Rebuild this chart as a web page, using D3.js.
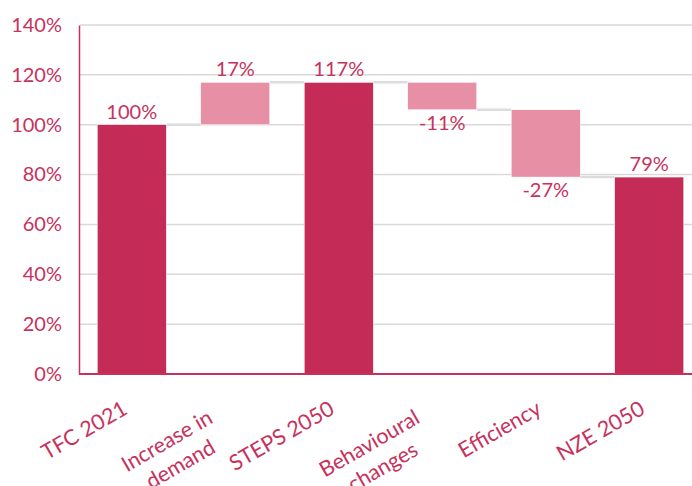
<!DOCTYPE html>
<html>
<head>
<meta charset="utf-8">
<script src="https://cdn.jsdelivr.net/npm/d3@7"></script>
<style>
  body { margin: 0; background: #fff; }
  text { font-family: Lato, "Open Sans", sans-serif; fill: #c7325d; }
</style>
</head>
<body>
<div class="chart"></div>
<script>
  // waterfall data
  var categories = [["TFC 2021"], ["Increase in", "demand"], ["STEPS 2050"], ["Behavioural", "changes"], ["Efficiency"], ["NZE 2050"]];
  var values = [100, 17, 117, -11, -27, 79];
  var isTotal = [true, false, true, false, false, true];
  var yTicks = [0, 20, 40, 60, 80, 100, 120, 140];

  var width = 692, height = 486;
  var dark = "#c42b57", light = "#e68fa5";

  var svg = d3.select(".chart").append("svg")
    .attr("width", width)
    .attr("height", height);

  var x = d3.scaleBand()
    .domain(d3.range(categories.length))
    .range([80, 701])
    .paddingInner(0.333)
    .paddingOuter(0.1667);

  var y = d3.scaleLinear()
    .domain([0, 140])
    .range([374, 25]);

  // build start/end of each bar
  var bars = [];
  var running = 0;
  values.forEach(function(v, i) {
    var b;
    if (isTotal[i]) {
      b = { i: i, y0: 0, y1: v, total: true };
      running = v;
    } else {
      b = { i: i, y0: running, y1: running + v, total: false };
      running = running + v;
    }
    b.v = v;
    bars.push(b);
  });

  // gridlines
  svg.append("g")
    .selectAll("line")
    .data(yTicks.filter(function(d) { return d > 0; }))
    .enter().append("line")
    .attr("x1", 80).attr("x2", width)
    .attr("y1", function(d) { return y(d); })
    .attr("y2", function(d) { return y(d); })
    .style("stroke", "#d9d9d9")
    .style("stroke-width", 1.5);

  // y axis
  var yAxis = d3.axisLeft(y).tickValues(yTicks).tickSize(0).tickPadding(17)
    .tickFormat(function(d) { return d + "%"; });
  var ga = svg.append("g").attr("transform", "translate(79,0)").call(yAxis);
  ga.select(".domain").style("stroke", "#c7325d").style("stroke-width", 1.5);
  ga.selectAll("text").style("font-size", "20px").attr("fill", "#c7325d");

  // connectors
  svg.append("g")
    .selectAll("line")
    .data(bars.slice(0, bars.length - 1))
    .enter().append("line")
    .attr("x1", function(d) { return x(d.i) + x.bandwidth(); })
    .attr("x2", function(d) { return x(d.i + 1); })
    .attr("y1", function(d) { return y(d.y1); })
    .attr("y2", function(d) { return y(d.y1); })
    .style("stroke", "#dcdcdc")
    .style("stroke-width", 2.5);

  // bars
  svg.append("g")
    .selectAll("rect")
    .data(bars)
    .enter().append("rect")
    .attr("x", function(d) { return x(d.i); })
    .attr("width", x.bandwidth())
    .attr("y", function(d) { return y(Math.max(d.y0, d.y1)); })
    .attr("height", function(d) { return Math.abs(y(d.y0) - y(d.y1)); })
    .style("fill", function(d) { return d.total ? dark : light; })
    .style("stroke", "#fff")
    .style("stroke-width", 0.5);

  // bottom axis line
  svg.append("line")
    .attr("x1", 79).attr("x2", width)
    .attr("y1", y(0)).attr("y2", y(0))
    .style("stroke", "#c7325d")
    .style("stroke-width", 2);

  // value labels
  svg.append("g")
    .selectAll("text")
    .data(bars)
    .enter().append("text")
    .attr("x", function(d) { return x(d.i) + x.bandwidth() / 2; })
    .attr("y", function(d) {
      return d.v >= 0 ? y(Math.max(d.y0, d.y1)) - 6 : y(Math.min(d.y0, d.y1)) + 20;
    })
    .attr("text-anchor", "middle")
    .style("font-size", "20px")
    .text(function(d) { return d.v + "%"; });

  // category labels, rotated
  var cat = svg.append("g")
    .selectAll("g")
    .data(categories)
    .enter().append("g")
    .attr("transform", function(d, i) {
      var cx = x(i) + x.bandwidth() / 2;
      return d.length > 1
        ? "translate(" + (cx - 21) + ",422) rotate(-30)"
        : "translate(" + (cx - 3) + ",413) rotate(-30)";
    });

  cat.each(function(lines) {
    var g = d3.select(this);
    var texts = g.selectAll("text")
      .data(lines)
      .enter().append("text")
      .attr("text-anchor", "end")
      .attr("y", function(d, j) { return j * 27; })
      .style("font-size", "21.5px")
      .text(function(d) { return d; });
    var w = [];
    texts.each(function() { w.push(this.getComputedTextLength()); });
    var maxW = d3.max(w);
    texts.attr("x", function(d, j) { return -(maxW - w[j]) / 2; });
  });
</script>
</body>
</html>
